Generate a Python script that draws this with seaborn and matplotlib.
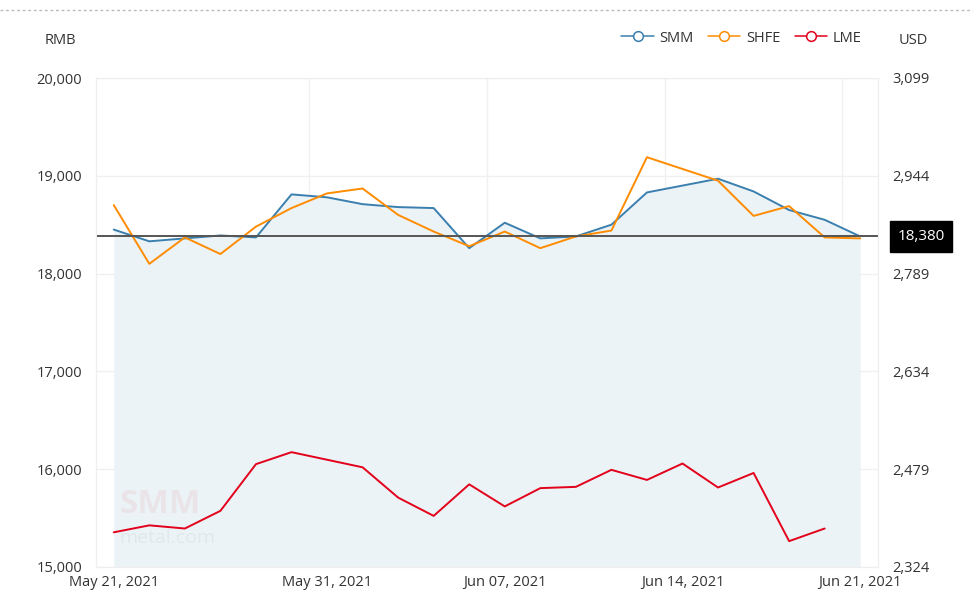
import numpy as np
import pandas as pd
import matplotlib
matplotlib.use("Agg")
import matplotlib.pyplot as plt
from matplotlib.lines import Line2D
import seaborn as sns

# Data (trading days)
dates = ["May 21", "May 24", "May 25", "May 26", "May 27", "May 28",
         "May 31", "Jun 01", "Jun 02", "Jun 03", "Jun 04",
         "Jun 07", "Jun 08", "Jun 09", "Jun 10", "Jun 11",
         "Jun 14", "Jun 15", "Jun 16", "Jun 17", "Jun 18", "Jun 21"]
smm = [18450, 18330, 18360, 18390, 18370, 18810, 18780, 18710, 18680, 18670, 18260,
       18520, 18360, 18380, 18500, 18830, 18900, 18970, 18840, 18650, 18550, 18380]
shfe = [18700, 18100, 18370, 18200, 18480, 18670, 18820, 18870, 18600, 18430, 18280,
        18430, 18260, 18380, 18440, 19190, 19070, 18950, 18590, 18690, 18370, 18360]
lme = [2379, 2390, 2385, 2413, 2487, 2506, np.nan, 2482, 2434, 2405, 2455,
       2420, 2449, 2451, 2478, 2462, 2488, 2450, 2473, 2365, 2385, np.nan]
latest = 18380

tick_idx = [0, 6, 11, 16, 21]
tick_labels = ["May 21, 2021", "May 31, 2021", "Jun 07, 2021", "Jun 14, 2021", "Jun 21, 2021"]
left_ticks = [15000, 16000, 17000, 18000, 19000, 20000]
right_ticks = [2324, 2479, 2634, 2789, 2944, 3099]

df = pd.DataFrame({"idx": range(len(dates)), "date": dates, "SMM": smm, "SHFE": shfe, "LME": lme})

c_smm = "#3a7fae"
c_shfe = "#ff8c00"
c_lme = "#e3001b"
txt = "#333333"

sns.set_style("white")
plt.rcParams["font.family"] = ["Open Sans", "DejaVu Sans"]

fig = plt.figure(figsize=(9.73, 5.99), dpi=100)
ax = fig.add_axes([96 / 973, 1 - 567 / 599, (878 - 96) / 973, (567 - 78) / 599])
ax2 = ax.twinx()

# area under SMM
ax.fill_between(df["idx"], df["SMM"], 15000, color="#ebf3f7", lw=0, zorder=1)
sns.lineplot(data=df, x="idx", y="SMM", ax=ax, color=c_smm, lw=1.4, zorder=3)
sns.lineplot(data=df, x="idx", y="SHFE", ax=ax, color=c_shfe, lw=1.4, zorder=4)
lme_df = df.dropna(subset=["LME"])
sns.lineplot(data=lme_df, x="idx", y="LME", ax=ax2, color=c_lme, lw=1.4)

ax.axhline(latest, color="#555555", lw=1.4, zorder=5)

ax.set_xlim(-0.5, len(dates) - 0.5)
ax.set_ylim(15000, 20000)
ax2.set_ylim(2324, 3099)

ax.set_yticks(left_ticks)
ax.set_yticklabels([f"{v:,}" for v in left_ticks])
ax2.set_yticks(right_ticks)
ax2.set_yticklabels([f"{v:,}" for v in right_ticks])
ax.set_xticks(tick_idx)
ax.set_xticklabels(tick_labels)

ax.tick_params(axis="y", length=0, pad=10, labelsize=10.5, labelcolor=txt)
ax2.tick_params(axis="y", length=0, pad=10, labelsize=10.5, labelcolor=txt)
ax.tick_params(axis="x", length=0, pad=6, labelsize=10.5, labelcolor=txt)
ax.set_xlabel("")
ax.set_ylabel("")
ax2.set_ylabel("")

# grid
for v in left_ticks:
    ax.axhline(v, color="#f0f0f0", lw=1, zorder=0)
for i in tick_idx[1:]:
    ax.axvline(i - 0.5, color="#f0f0f0", lw=1, zorder=0)
for a in (ax, ax2):
    for s in a.spines.values():
        s.set_color("#eeeeee")

# latest value label
ax2.annotate(f"{latest:,}", xy=(1.0, latest), xycoords=("axes fraction", ax.transData),
             xytext=(14, 0), textcoords="offset points", ha="left", va="center",
             color="white", fontsize=11,
             bbox=dict(boxstyle="square,pad=0.5", fc="black", ec="black"), zorder=10)

# watermark
ax.text(0.03, 0.11, "SMM", transform=ax.transAxes, fontsize=24, fontweight="bold",
        color="#e60012", alpha=0.06, zorder=2)
ax.text(0.03, 0.05, "metal.com", transform=ax.transAxes, fontsize=14,
        color="#999999", alpha=0.12, zorder=2)

# units
fig.text(60 / 973, 1 - 40 / 599, "RMB", ha="center", va="center", fontsize=10.5, color=txt)
fig.text(913 / 973, 1 - 40 / 599, "USD", ha="center", va="center", fontsize=10.5, color=txt)

# legend
handles = [Line2D([0], [0], color=c, lw=1.1, marker="o", markersize=7,
                  markerfacecolor="white", markeredgecolor=c, markeredgewidth=1.1)
           for c in (c_smm, c_shfe, c_lme)]
fig.legend(handles, ["SMM", "SHFE", "LME"], loc="center right",
           bbox_to_anchor=(875 / 973, 1 - 38 / 599), ncol=3, frameon=False,
           fontsize=10.5, handlelength=2.2, handletextpad=0.4, columnspacing=1.0,
           labelcolor=txt)

# dotted top border
fig.add_artist(Line2D([0, 1], [1 - 10 / 599, 1 - 10 / 599], color="#bbbbbb",
                      lw=1, ls=(0, (2, 2))))

fig.savefig("out.png", dpi=100)
